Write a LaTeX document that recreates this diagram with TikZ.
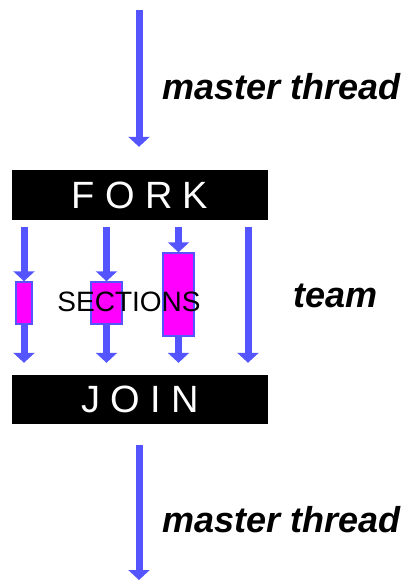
\documentclass[tikz,border=0pt]{standalone}
\usepackage{fontspec}
\setmainfont{Liberation Sans}
\usetikzlibrary{arrows.meta}

\definecolor{threadblue}{RGB}{85,85,255}
\definecolor{sectionpink}{RGB}{255,0,255}

\tikzset{
  thread/.style={draw=threadblue, line width=7pt, -{Triangle[width=21pt,length=10pt]}},
  bar/.style={fill=black, text=white, minimum width=256pt, minimum height=50pt, inner sep=0pt,
    font=\fontsize{38}{38}\selectfont\addfontfeature{LetterSpace=27}},
  section/.style={fill=sectionpink, draw=threadblue, line width=1.5pt, inner sep=0pt},
  threadlabel/.style={font=\fontsize{36}{36}\selectfont\bfseries\itshape, anchor=base west, inner sep=0pt},
}

\begin{document}
\begin{tikzpicture}[x=1pt,y=-1pt]
    \useasboundingbox (0,0) rectangle (405,580);

    \node (fork) at (140,195) [bar] {FORK};
    \node (join) at (140,399.5) [bar, minimum height=49pt] {JOIN};

    \node (box1) at (24,303) [section, minimum width=16pt, minimum height=42pt] {};
    \node (box2) at (106.5,303) [section, minimum width=31pt, minimum height=42pt] {};
    \node (box3) at (178.5,294.5) [section, minimum width=31pt, minimum height=83pt] {};
    \coordinate (lane4) at (248,300);

    \node (sections) at (129,302) [inner sep=0pt, font=\fontsize{28}{28}\selectfont] {SECTIONS};

    \node (master-top) at (162,100) [threadlabel] {master thread};
    \node (team) at (293,307) [threadlabel] {team};
    \node (master-bottom) at (162,532) [threadlabel] {master thread};

    \coordinate (top-start) at (139,10);
    \coordinate (bottom-end) at (139,580);

    \draw[thread, shorten >=23pt] (top-start) -- (top-start |- fork.north);

    \draw[thread, shorten <=7pt] (fork.south -| box1) -- (box1);
    \draw[thread, shorten <=7pt] (fork.south -| box2) -- (box2);
    \draw[thread, shorten <=7pt] (fork.south -| box3) -- (box3);
    \draw[thread, shorten <=7pt, shorten >=12pt] (fork.south -| lane4) -- (join.north -| lane4);

    \draw[thread, shorten >=12pt] (box1) -- (join.north -| box1);
    \draw[thread, shorten >=12pt] (box2) -- (join.north -| box2);
    \draw[thread, shorten >=12pt] (box3) -- (join.north -| box3);

    \draw[thread, shorten <=21pt] (join.south -| bottom-end) -- (bottom-end);
\end{tikzpicture}
\end{document}
